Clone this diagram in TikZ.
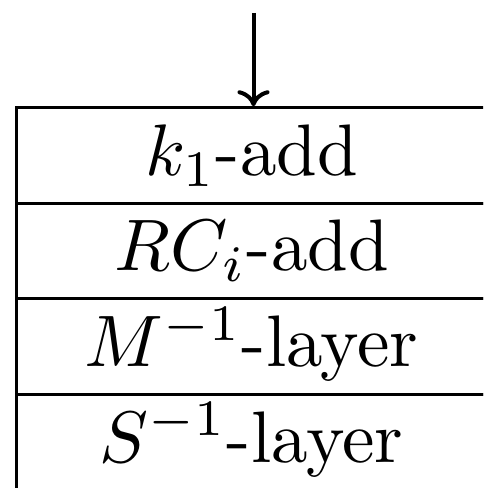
\documentclass[tikz,border=0pt]{standalone}
\usetikzlibrary{arrows.meta}
\newcommand{\bigtxt}[1]{\scalebox{7.3}{#1}}
\begin{document}
\begin{tikzpicture}[x=1pt,y=1pt,
  rowbox/.style={draw, line width=3pt, minimum width=470pt, minimum height=95.5pt,
    inner sep=0pt, text height=55pt, text depth=15pt},
  flow/.style={line width=4pt, -{To[length=16pt,width=32pt,line width=4pt]}}
]
\useasboundingbox (0,0) rectangle (483,488);
\clip (0,0) rectangle (483,488);
\node[rowbox] (r1) at (251.5,332.5) {\bigtxt{$k_1$-add}};
\node[rowbox] (r2) at (251.5,237) {\bigtxt{$RC_i$-add}};
\node[rowbox] (r3) at (251.5,141.5) {\bigtxt{$M^{-1}$-layer}};
\node[rowbox] (r4) at (251.5,46) {\bigtxt{$S^{-1}$-layer}};
\coordinate (src) at (253.5,475);
\draw[flow] (src) -- (src |- r1.north);
\end{tikzpicture}
\end{document}
